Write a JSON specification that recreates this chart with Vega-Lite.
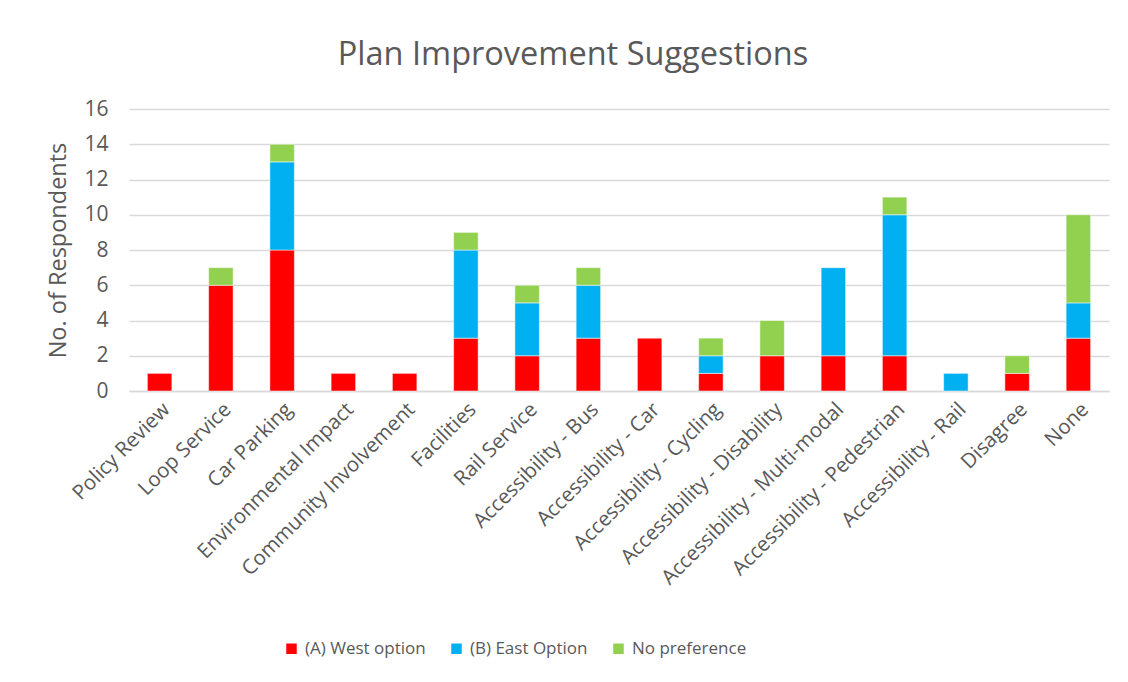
{
  "$schema": "https://vega.github.io/schema/vega-lite/v6.json",
  "width": 980,
  "height": 282,
  "autosize": {"type": "none"},
  "padding": {"left": 129, "top": 109, "right": 19, "bottom": 291},
  "background": "white",
  "title": {
    "text": "Plan Improvement Suggestions",
    "fontSize": 32.5,
    "font": "Open Sans",
    "fontWeight": "normal",
    "color": "#595959",
    "anchor": "middle",
    "dx": -46,
    "offset": 27
  },
  "data": {
    "values": [
      {"cat": "Policy Review", "series": "(A) West option", "o": 1, "v": 1},
      {"cat": "Loop Service", "series": "(A) West option", "o": 1, "v": 6},
      {"cat": "Loop Service", "series": "No preference", "o": 3, "v": 1},
      {"cat": "Car Parking", "series": "(A) West option", "o": 1, "v": 8},
      {"cat": "Car Parking", "series": "(B) East Option", "o": 2, "v": 5},
      {"cat": "Car Parking", "series": "No preference", "o": 3, "v": 1},
      {"cat": "Environmental Impact", "series": "(A) West option", "o": 1, "v": 1},
      {"cat": "Community Involvement", "series": "(A) West option", "o": 1, "v": 1},
      {"cat": "Facilities", "series": "(A) West option", "o": 1, "v": 3},
      {"cat": "Facilities", "series": "(B) East Option", "o": 2, "v": 5},
      {"cat": "Facilities", "series": "No preference", "o": 3, "v": 1},
      {"cat": "Rail Service", "series": "(A) West option", "o": 1, "v": 2},
      {"cat": "Rail Service", "series": "(B) East Option", "o": 2, "v": 3},
      {"cat": "Rail Service", "series": "No preference", "o": 3, "v": 1},
      {"cat": "Accessibility - Bus", "series": "(A) West option", "o": 1, "v": 3},
      {"cat": "Accessibility - Bus", "series": "(B) East Option", "o": 2, "v": 3},
      {"cat": "Accessibility - Bus", "series": "No preference", "o": 3, "v": 1},
      {"cat": "Accessibility - Car", "series": "(A) West option", "o": 1, "v": 3},
      {"cat": "Accessibility - Cycling", "series": "(A) West option", "o": 1, "v": 1},
      {"cat": "Accessibility - Cycling", "series": "(B) East Option", "o": 2, "v": 1},
      {"cat": "Accessibility - Cycling", "series": "No preference", "o": 3, "v": 1},
      {"cat": "Accessibility - Disability", "series": "(A) West option", "o": 1, "v": 2},
      {"cat": "Accessibility - Disability", "series": "No preference", "o": 3, "v": 2},
      {"cat": "Accessibility - Multi-modal", "series": "(A) West option", "o": 1, "v": 2},
      {"cat": "Accessibility - Multi-modal", "series": "(B) East Option", "o": 2, "v": 5},
      {"cat": "Accessibility - Pedestrian", "series": "(A) West option", "o": 1, "v": 2},
      {"cat": "Accessibility - Pedestrian", "series": "(B) East Option", "o": 2, "v": 8},
      {"cat": "Accessibility - Pedestrian", "series": "No preference", "o": 3, "v": 1},
      {"cat": "Accessibility - Rail", "series": "(B) East Option", "o": 2, "v": 1},
      {"cat": "Disagree", "series": "(A) West option", "o": 1, "v": 1},
      {"cat": "Disagree", "series": "No preference", "o": 3, "v": 1},
      {"cat": "None", "series": "(A) West option", "o": 1, "v": 3},
      {"cat": "None", "series": "(B) East Option", "o": 2, "v": 2},
      {"cat": "None", "series": "No preference", "o": 3, "v": 5}
    ]
  },
  "mark": {"type": "bar", "stroke": "white", "strokeWidth": 0.5},
  "encoding": {
    "x": {
      "field": "cat",
      "type": "nominal",
      "sort": null,
      "scale": {"paddingInner": 0.6, "paddingOuter": 0.3},
      "axis": {
        "title": null,
        "labelAngle": -45,
        "labelFontSize": 20.5,
        "labelFont": "Open Sans",
        "labelColor": "#595959",
        "labelPadding": 8,
        "ticks": false,
        "domainColor": "#d9d9d9",
        "domainWidth": 1.5,
        "labelLimit": 400
      }
    },
    "y": {
      "field": "v",
      "type": "quantitative",
      "stack": "zero",
      "scale": {"domain": [0, 16]},
      "axis": {
        "title": "No. of Respondents",
        "titleFontSize": 23.5,
        "titleFont": "Open Sans",
        "titleFontWeight": "normal",
        "titleColor": "#595959",
        "titlePadding": 13,
        "labelFontSize": 21,
        "labelFont": "Open Sans",
        "labelColor": "#595959",
        "labelPadding": 21,
        "values": [0, 2, 4, 6, 8, 10, 12, 14, 16],
        "domain": false,
        "ticks": false,
        "gridColor": "#d9d9d9",
        "gridWidth": 1.5
      }
    },
    "color": {
      "field": "series",
      "type": "nominal",
      "scale": {
        "domain": ["(A) West option", "(B) East Option", "No preference"],
        "range": ["#FF0000", "#00B0F0", "#92D050"]
      },
      "legend": {
        "title": null,
        "orient": "none",
        "direction": "horizontal",
        "legendX": 154,
        "legendY": 531,
        "symbolType": "square",
        "symbolSize": 110,
        "symbolStrokeWidth": 0,
        "labelFontSize": 17,
        "labelFont": "Open Sans",
        "labelColor": "#595959",
        "columnPadding": 22,
        "labelOffset": 5
      }
    },
    "order": {"field": "o", "type": "quantitative"}
  },
  "config": {"view": {"stroke": null}}
}
